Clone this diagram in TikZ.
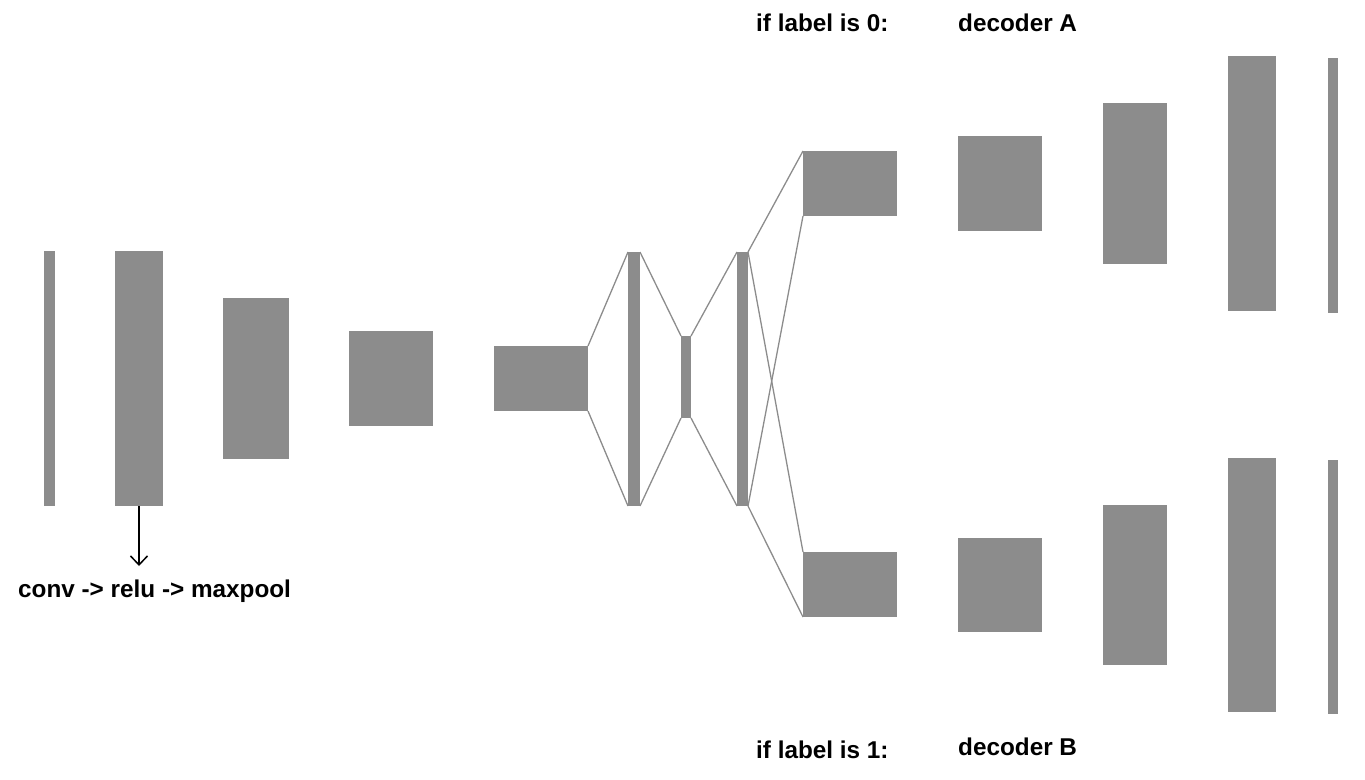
\documentclass[tikz,border=0pt]{standalone}
\usepackage{fontspec}
\setmainfont{Liberation Sans}
\usetikzlibrary{arrows.meta}
\definecolor{blkgray}{RGB}{140,140,140}
\tikzset{
  blk/.style={fill=blkgray, draw=none, inner sep=0pt, outer sep=0pt},
  link/.style={draw=blkgray, line width=1.3pt},
  lbl/.style={font=\fontsize{24.3}{29}\selectfont\bfseries, anchor=base west, inner sep=0pt}
}
\newcommand{\blkat}[5]{\node[blk, minimum width=#4pt, minimum height=#5pt] (#1) at (#2,#3) {};}
\begin{document}
\begin{tikzpicture}[x=1pt,y=-1pt]
\useasboundingbox (0,0) rectangle (1365,779);
% encoder
\blkat{e1}{49.5}{378.5}{11}{255}
\blkat{e2}{139}{378.5}{48}{255}
\blkat{e3}{256}{378.5}{66}{161}
\blkat{e4}{391}{378.5}{84}{95}
\blkat{e5}{541}{378.5}{94}{65}
\blkat{e6}{634}{379}{12}{254}
\blkat{e7}{686}{377}{10}{82}
\blkat{e8}{742.5}{379}{11}{254}
% decoder A
\blkat{a1}{850}{183.5}{94}{65}
\blkat{a2}{1000}{183.5}{84}{95}
\blkat{a3}{1135}{183.5}{64}{161}
\blkat{a4}{1252}{183.5}{48}{255}
\blkat{a5}{1333}{185.5}{10}{255}
% decoder B
\blkat{b1}{850}{584.5}{94}{65}
\blkat{b2}{1000}{585}{84}{94}
\blkat{b3}{1135}{585}{64}{160}
\blkat{b4}{1252}{585}{48}{254}
\blkat{b5}{1333}{587}{10}{254}
% connectors
\draw[link] (e5.north east) -- (e6.north west);
\draw[link] (e5.south east) -- (e6.south west);
\draw[link] (e6.north east) -- (e7.north west);
\draw[link] (e6.south east) -- (e7.south west);
\draw[link] (e7.north east) -- (e8.north west);
\draw[link] (e7.south east) -- (e8.south west);
\draw[link] (e8.north east) -- (a1.north west);
\draw[link] (e8.north east) -- (b1.north west);
\draw[link] (e8.south east) -- (a1.south west);
\draw[link] (e8.south east) -- (b1.south west);
% arrow and labels
\coordinate (arrend) at (139,566);
\draw[line width=1.5pt, -{Straight Barb[length=9pt,width=17pt]}] (e2.south) -- (arrend);
\node[lbl] (convlbl) at (18,597) {conv -> relu -> maxpool};
\node[lbl] (if0) at (756,31) {if label is 0:};
\node[lbl] (decA) at (958,31) {decoder A};
\node[lbl] (if1) at (756,758) {if label is 1:};
\node[lbl] (decB) at (958,755) {decoder B};
\end{tikzpicture}
\end{document}
